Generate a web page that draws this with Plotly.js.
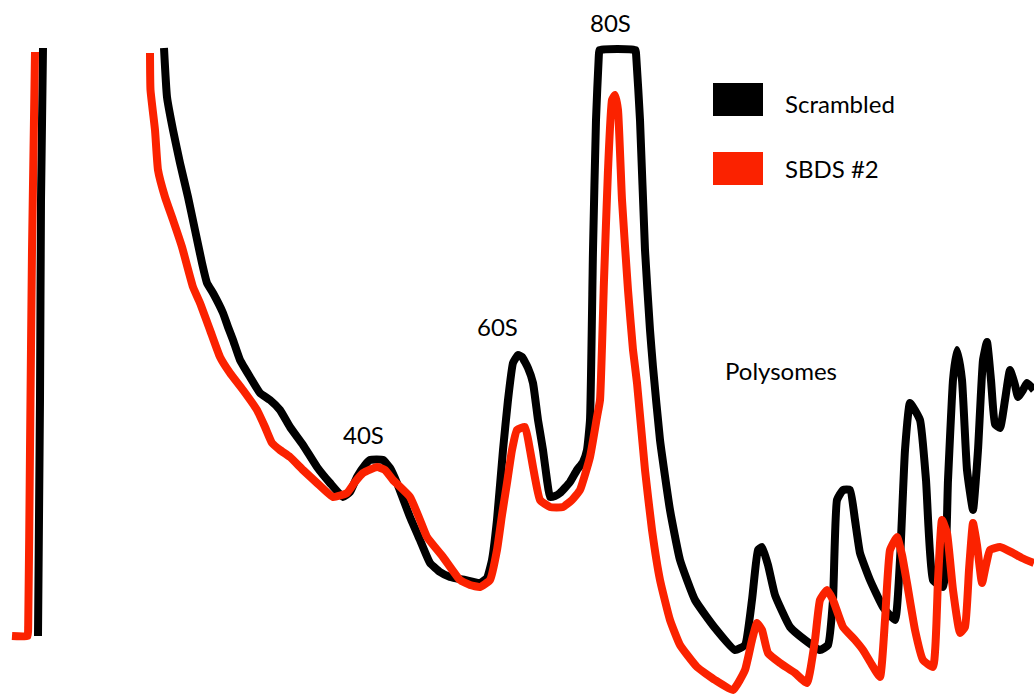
<!DOCTYPE html>
<html>
<head>
<meta charset="utf-8">
<script src="https://cdn.plot.ly/plotly-3.0.1.min.js"></script>
<style>html,body{margin:0;padding:0;background:#fff;}#chart{width:1034px;height:696px;}</style>
</head>
<body>
<div id="chart"></div>
<script>
// Fraction position (arbitrary units along the gradient)
const scrambledPos = [38,40,41,43,100,164,167,173,180,188,195,202,207,213,223,228,233,240,250,260,270,280,290,303,317,330,343,350,357,365,370,383,390,397,410,420,430,440,450,465,480,487,492,497,503,508,513,518,522,528,533,538,543,547,550,555,560,570,577,583,587,590,593,596,598.8,599.6,635.4,636.2,640,645,650,653,660,670,680,695,715,735,745,752,758,762,768,775,790,805,820,828,833,837,843,850,855,860,870,883,895,900,905,910,920,926,933,943,948,953,957,962,967,973,978,983,987,991,995,1000,1005,1010,1015,1018,1023,1027,1034];
// Absorbance (A254, arbitrary units)
const scrambledAbs = [60,296,496,648,null,648,599,566,533,499,466,433,413,403,383,369,356,336,319,303,296,286,269,251,229,213,199,204,219,231,236,236,228,213,179,156,133,124,119,116,113,118,136,176,246,296,333,341,339,328,313,276,246,216,199,200,203,214,226,234,246,276,446,576,640,646,646,640,576,446,366,329,256,186,136,96,68,46,51,96,146,149,131,101,69,56,46,51,96,196,206,206,176,143,116,89,76,136,246,293,276,216,116,109,216,316,346,316,226,186,246,336,354,316,272,268,296,326,311,299,306,313,306];

const sbdsPos = [12,27.5,28.2,30,32,35,90,150,150.5,155,158,165,173,182,193,200,210,220,230,243,257,265,272,280,290,303,317,333,347,355,363,377,385,393,410,420,427,443,460,470,480,490,497,502,507,512,517,525,530,533,540,550,563,572,580,590,597,600,604,608,612,615,618,622,628,633,637,645,652,660,670,680,697,715,733,745,752,757,762,768,780,795,807,815,820,827,833,843,855,863,872,880,885,890,897,902,907,915,923,933,938,942,947,953,960,965,969,973,977,982,986,990,1000,1013,1022,1034];
const sbdsAbs = [60,60,70,246,446,644,null,643,606,566,526,499,476,449,409,393,366,339,323,306,286,269,253,246,239,226,213,199,203,214,223,229,226,216,199,176,159,139,116,111,109,116,146,181,213,246,266,269,246,229,196,189,189,196,206,239,279,296,416,526,596,601,586,496,406,346,313,226,166,116,76,51,29,16,6,26,56,73,66,43,33,23,13,56,96,106,96,69,56,46,31,19,76,146,159,141,113,66,36,29,116,176,163,106,63,69,126,173,151,113,131,146,149,143,138,133];

const seriesNames = ["Scrambled", "SBDS #2"];
const peakLabels = ["40S", "60S", "80S", "Polysomes"];
const peakLabelPos = [363, 497, 610, 781];
const peakLabelAbs = [262, 370, 674, 326];

const BLACK = "#000000";
const RED = "#fb2200";
const FONT = "Lato, Open Sans, sans-serif";
const FSIZE = 24;

const traces = [
  {x: scrambledPos, y: scrambledAbs, mode: "lines", name: seriesNames[0], connectgaps: false,
   line: {color: BLACK, width: 8, shape: "spline", smoothing: 0.4}, showlegend: false, hoverinfo: "skip"},
  {x: sbdsPos, y: sbdsAbs, mode: "lines", name: seriesNames[1], connectgaps: false,
   line: {color: RED, width: 8, shape: "spline", smoothing: 0.4}, showlegend: false, hoverinfo: "skip"}
];

const annotations = peakLabels.map((t, i) => ({
  x: peakLabelPos[i], y: peakLabelAbs[i], xref: "x", yref: "y", text: t, showarrow: false,
  font: {family: FONT, size: FSIZE, color: "#000"}, xanchor: "center", yanchor: "middle"
}));
annotations.push({x: 783, y: 593, xref: "x", yref: "y", text: seriesNames[0], showarrow: false,
  font: {family: FONT, size: FSIZE, color: "#000"}, xanchor: "left", yanchor: "middle"});
annotations.push({x: 783, y: 528, xref: "x", yref: "y", text: seriesNames[1], showarrow: false,
  font: {family: FONT, size: FSIZE, color: "#000"}, xanchor: "left", yanchor: "middle"});

const shapes = [
  {type: "rect", xref: "x", yref: "y", x0: 713, x1: 763, y0: 580, y1: 613, fillcolor: BLACK, line: {width: 0}},
  {type: "rect", xref: "x", yref: "y", x0: 713, x1: 763, y0: 511, y1: 544, fillcolor: RED, line: {width: 0}}
];

const layout = {
  width: 1034, height: 696,
  margin: {l: 0, r: 0, t: 0, b: 0, pad: 0},
  paper_bgcolor: "#fff", plot_bgcolor: "#fff",
  xaxis: {range: [0, 1034], visible: false, fixedrange: true},
  yaxis: {range: [0, 696], visible: false, fixedrange: true},
  showlegend: false,
  annotations: annotations,
  shapes: shapes
};

Plotly.newPlot("chart", traces, layout, {staticPlot: true, displayModeBar: false});
</script>
</body>
</html>
